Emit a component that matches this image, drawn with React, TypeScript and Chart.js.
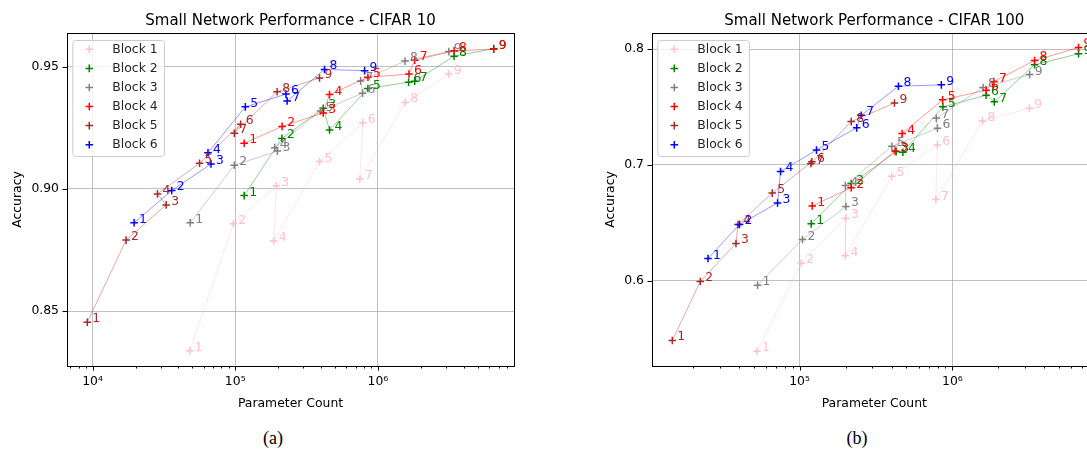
import React, { useEffect, useRef } from "react";
import { Chart, registerables } from "chart.js";

Chart.register(...registerables);

// ---------- shared ----------
const blockLabels = ["Block 1", "Block 2", "Block 3", "Block 4", "Block 5", "Block 6"];
const blockColors = ["#ffc0cb", "#008000", "#808080", "#ff0000", "#a52a2a", "#0000ff"];

// ---------- CIFAR 10 ----------
const c10Block1Params = [48000, 97000, 194000, 186000, 390000, 784000, 747000, 1552000, 3130000];
const c10Block1Acc = [0.8338, 0.8858, 0.9013, 0.8787, 0.9112, 0.9271, 0.9041, 0.9354, 0.947];
const c10Block2Params = [115500, 212400, 413600, 458000, 850700, 1640000, 1810000, 3418000, 6480000];
const c10Block2Acc = [0.8973, 0.9207, 0.933, 0.9241, 0.9411, 0.9437, 0.9441, 0.9543, 0.9574];
const c10Block3Params = [48400, 98600, 197500, 189100, 395900, 780700, 755800, 1547000, 3137000];
const c10Block3Acc = [0.8862, 0.9097, 0.9155, 0.9169, 0.9319, 0.9392, 0.9442, 0.9523, 0.9562];
const c10Block4Params = [115500, 213100, 413600, 458000, 850700, 1651000, 1810000, 3418000, 6474000];
const c10Block4Acc = [0.9187, 0.9256, 0.9311, 0.9386, 0.9457, 0.947, 0.9527, 0.9565, 0.9572];
const c10Block5Params = [9190, 17190, 32820, 28520, 56230, 109100, 98560, 196600, 389600];
const c10Block5Acc = [0.8455, 0.8791, 0.8935, 0.898, 0.9105, 0.9265, 0.9228, 0.9398, 0.9454];
const c10Block6Params = [19560, 35870, 67610, 64420, 117700, 226700, 231100, 422400, 806500];
const c10Block6Acc = [0.8862, 0.8994, 0.9102, 0.9148, 0.9336, 0.9388, 0.936, 0.9489, 0.9484];

const c10XTicks = [1e4, 1e5, 1e6];
const c10XTickLabels = ["10⁴", "10⁵", "10⁶"];
const c10YTicks = [0.85, 0.9, 0.95];
const c10YTickLabels = ["0.85", "0.90", "0.95"];

// ---------- CIFAR 100 ----------
const c100Block1Params = [52670, 102600, 201000, 199500, 400600, 796800, 780100, 1575000, 3186000];
const c100Block1Acc = [0.5393, 0.6153, 0.6541, 0.6216, 0.6902, 0.7173, 0.6701, 0.738, 0.7489];
const c100Block2Params = [119200, 217800, 428500, 474200, 866700, 1661000, 1879000, 3446000, 6681000];
const c100Block2Acc = [0.6492, 0.6839, 0.7115, 0.7109, 0.7501, 0.7601, 0.7544, 0.7864, 0.7959];
const c100Block3Params = [53150, 104600, 201000, 199500, 401800, 798000, 784800, 1587000, 3200000];
const c100Block3Acc = [0.5963, 0.6357, 0.6642, 0.6822, 0.7161, 0.7316, 0.7403, 0.7668, 0.778];
const c100Block4Params = [121100, 217800, 421000, 469200, 862900, 1661000, 1867000, 3446000, 6681000];
const c100Block4Acc = [0.6647, 0.6804, 0.712, 0.7271, 0.7562, 0.7644, 0.7719, 0.7901, 0.8013];
const c100Block5Params = [14720, 22440, 38400, 39580, 66310, 120500, 118700, 217800, 417900];
const c100Block5Acc = [0.5486, 0.5995, 0.6323, 0.6487, 0.6757, 0.7027, 0.7012, 0.7374, 0.7534];
const c100Block6Params = [25190, 40480, 71820, 75140, 129100, 236500, 253100, 443700, 846000];
const c100Block6Acc = [0.6193, 0.6487, 0.6672, 0.6944, 0.7128, 0.732, 0.7428, 0.7679, 0.7691];

const c100XTicks = [1e5, 1e6];
const c100XTickLabels = ["10⁵", "10⁶"];
const c100YTicks = [0.6, 0.7, 0.8];
const c100YTickLabels = ["0.6", "0.7", "0.8"];

type Panel = {
  title: string;
  params: number[][];
  acc: number[][];
  xMin: number;
  xMax: number;
  yMin: number;
  yMax: number;
  xTicks: number[];
  xTickLabels: string[];
  yTicks: number[];
  yTickLabels: string[];
  canvasLeft: number;
  canvasWidth: number;
  padLeft: number;
  padRight: number;
  yLabelGap: number;
};

const panels: Panel[] = [
  {
    title: "Small Network Performance - CIFAR 10",
    params: [c10Block1Params, c10Block2Params, c10Block3Params, c10Block4Params, c10Block5Params, c10Block6Params],
    acc: [c10Block1Acc, c10Block2Acc, c10Block3Acc, c10Block4Acc, c10Block5Acc, c10Block6Acc],
    xMin: 6622,
    xMax: 8985000,
    yMin: 0.8276,
    yMax: 0.9638,
    xTicks: c10XTicks,
    xTickLabels: c10XTickLabels,
    yTicks: c10YTicks,
    yTickLabels: c10YTickLabels,
    canvasLeft: 0,
    canvasWidth: 540,
    padLeft: 7,
    padRight: 26,
    yLabelGap: 49,
  },
  {
    title: "Small Network Performance - CIFAR 100",
    params: [c100Block1Params, c100Block2Params, c100Block3Params, c100Block4Params, c100Block5Params, c100Block6Params],
    acc: [c100Block1Acc, c100Block2Acc, c100Block3Acc, c100Block4Acc, c100Block5Acc, c100Block6Acc],
    xMin: 10840,
    xMax: 8770000,
    yMin: 0.5266,
    yMax: 0.8138,
    xTicks: c100XTicks,
    xTickLabels: c100XTickLabels,
    yTicks: c100YTicks,
    yTickLabels: c100YTickLabels,
    canvasLeft: 560,
    canvasWidth: 560,
    padLeft: 32,
    padRight: 23.4,
    yLabelGap: 41,
  },
];

const FONT = '"DejaVu Sans", sans-serif';
const CANVAS_H = 420;

function rgba(hex: string, a: number) {
  const n = parseInt(hex.slice(1), 16);
  return `rgba(${(n >> 16) & 255},${(n >> 8) & 255},${n & 255},${a})`;
}

function drawPlus(ctx: CanvasRenderingContext2D, x: number, y: number, r: number, color: string) {
  ctx.strokeStyle = color;
  ctx.lineWidth = 1.5;
  ctx.beginPath();
  ctx.moveTo(x - r, y);
  ctx.lineTo(x + r, y);
  ctx.moveTo(x, y - r);
  ctx.lineTo(x, y + r);
  ctx.stroke();
}

function PanelChart({ panel }: { panel: Panel }) {
  const ref = useRef<HTMLCanvasElement>(null);

  useEffect(() => {
    const canvas = ref.current;
    if (!canvas) return;

    const decor = {
      id: "decor",
      afterDatasetsDraw(chart: any) {
        const { ctx, chartArea: a } = chart;
        ctx.save();
        // spines
        ctx.strokeStyle = "#000";
        ctx.lineWidth = 1;
        ctx.strokeRect(Math.round(a.left) + 0.5, Math.round(a.top) + 0.5, Math.round(a.right - a.left), Math.round(a.bottom - a.top));
        // point labels
        ctx.font = `12.4px ${FONT}`;
        ctx.textAlign = "left";
        ctx.textBaseline = "alphabetic";
        chart.data.datasets.forEach((_ds: any, di: number) => {
          const meta = chart.getDatasetMeta(di);
          ctx.fillStyle = blockColors[di];
          meta.data.forEach((pt: any, i: number) => {
            ctx.fillText(String(i + 1), pt.x + 5, pt.y);
          });
        });
        ctx.restore();
      },
      afterDraw(chart: any) {
        const { ctx, chartArea: a } = chart;
        const xs = chart.scales.x;
        const ys = chart.scales.y;
        ctx.save();
        ctx.strokeStyle = "#000";
        ctx.lineWidth = 1;
        // x ticks (major + minor)
        const e0 = Math.floor(Math.log10(xs.min));
        const e1 = Math.floor(Math.log10(xs.max));
        ctx.beginPath();
        for (let e = e0; e <= e1; e++) {
          for (let m = 1; m <= 9; m++) {
            const v = m * Math.pow(10, e);
            if (v < xs.min || v > xs.max) continue;
            const px = Math.round(xs.getPixelForValue(v)) + 0.5;
            const len = m === 1 ? 4.5 : 2.5;
            ctx.moveTo(px, a.bottom);
            ctx.lineTo(px, a.bottom + len);
          }
        }
        // y ticks
        panel.yTicks.forEach((v) => {
          const py = Math.round(ys.getPixelForValue(v)) + 0.5;
          ctx.moveTo(a.left - 4.5, py);
          ctx.lineTo(a.left, py);
        });
        ctx.stroke();

        ctx.fillStyle = "#000";
        // title
        ctx.font = `15px ${FONT}`;
        ctx.textAlign = "center";
        ctx.textBaseline = "alphabetic";
        ctx.fillText(panel.title, (a.left + a.right) / 2, a.top - 8);
        // x label
        ctx.font = `12.4px ${FONT}`;
        ctx.fillText("Parameter Count", (a.left + a.right) / 2, a.bottom + 41);
        // y label
        ctx.save();
        ctx.translate(a.left - panel.yLabelGap, (a.top + a.bottom) / 2);
        ctx.rotate(-Math.PI / 2);
        ctx.textBaseline = "middle";
        ctx.fillText("Accuracy", 0, 0);
        ctx.restore();

        // legend
        const lx = a.left + 5.3;
        const ly = a.top + 7;
        const lw = 91.7;
        const lh = 116;
        ctx.beginPath();
        ctx.roundRect(lx + 0.5, ly + 0.5, lw, lh, 3);
        ctx.fillStyle = "rgba(255,255,255,0.8)";
        ctx.fill();
        ctx.strokeStyle = "#cccccc";
        ctx.lineWidth = 1;
        ctx.stroke();
        ctx.font = `12.4px ${FONT}`;
        ctx.textAlign = "left";
        ctx.textBaseline = "middle";
        blockLabels.forEach((label, i) => {
          const y = ly + 9.3 + i * 19.08;
          drawPlus(ctx, a.left + 22.3, y, 3.8, blockColors[i]);
          ctx.fillStyle = "#262626";
          ctx.fillText(label, a.left + 45.3, y + 0.5);
        });
        ctx.restore();
      },
    };

    const chart = new Chart(canvas, {
      type: "scatter",
      data: {
        datasets: panel.params.map((xsArr, i) => ({
          label: blockLabels[i],
          data: xsArr.map((x, j) => ({ x, y: panel.acc[i][j] })),
          showLine: true,
          borderColor: rgba(blockColors[i], 0.4),
          borderWidth: 1,
          pointStyle: "cross",
          pointRadius: 3.8,
          pointHoverRadius: 3.8,
          pointBorderWidth: 1.5,
          pointBorderColor: blockColors[i],
          pointBackgroundColor: blockColors[i],
          fill: false,
          tension: 0,
          order: 6 - i,
        })),
      },
      options: {
        responsive: false,
        animation: false,
        events: [],
        layout: {
          padding: { left: panel.padLeft, right: panel.padRight, top: 33, bottom: 24 },
        },
        plugins: {
          legend: { display: false },
          title: { display: false },
          tooltip: { enabled: false },
        },
        scales: {
          x: {
            type: "logarithmic",
            min: panel.xMin,
            max: panel.xMax,
            bounds: "data",
            afterBuildTicks: (s: any) => {
              s.ticks = panel.xTicks.map((v) => ({ value: v }));
              s.min = panel.xMin;
              s.max = panel.xMax;
            },
            afterFit: (s: any) => {
              s.height = 30;
            },
            ticks: {
              autoSkip: false,
              maxRotation: 0,
              padding: 8,
              color: "#000",
              font: { family: FONT, size: 12.4 },
              callback: (_v: any, idx: number) => panel.xTickLabels[idx],
            },
            grid: { color: "#b0b0b0", lineWidth: 0.8, drawTicks: false },
            border: { display: false },
          },
          y: {
            type: "linear",
            min: panel.yMin,
            max: panel.yMax,
            afterBuildTicks: (s: any) => {
              s.ticks = panel.yTicks.map((v) => ({ value: v }));
              s.min = panel.yMin;
              s.max = panel.yMax;
            },
            afterFit: (s: any) => {
              s.width = 60;
            },
            ticks: {
              autoSkip: false,
              padding: 8,
              color: "#000",
              font: { family: FONT, size: 12.4 },
              callback: (_v: any, idx: number) => panel.yTickLabels[idx],
            },
            grid: { color: "#b0b0b0", lineWidth: 0.8, drawTicks: false },
            border: { display: false },
          },
        },
      },
      plugins: [decor],
    } as any);

    return () => chart.destroy();
  }, [panel]);

  return (
    <canvas
      ref={ref}
      width={panel.canvasWidth}
      height={CANVAS_H}
      style={{ position: "absolute", left: panel.canvasLeft, top: 0, width: panel.canvasWidth, height: CANVAS_H }}
    />
  );
}

export default function App() {
  const captionStyle: React.CSSProperties = {
    position: "absolute",
    top: 427,
    transform: "translateX(-50%)",
    fontFamily: '"Liberation Serif", "DejaVu Serif", serif',
    fontSize: 18,
    color: "#000",
    lineHeight: "22px",
  };
  return (
    <div style={{ position: "absolute", left: 0, top: 0, width: 1087, height: 450, overflow: "hidden", background: "#fff" }}>
      {panels.map((p, i) => (
        <PanelChart key={i} panel={p} />
      ))}
      <div style={{ ...captionStyle, left: 273 }}>(a)</div>
      <div style={{ ...captionStyle, left: 857 }}>(b)</div>
    </div>
  );
}
